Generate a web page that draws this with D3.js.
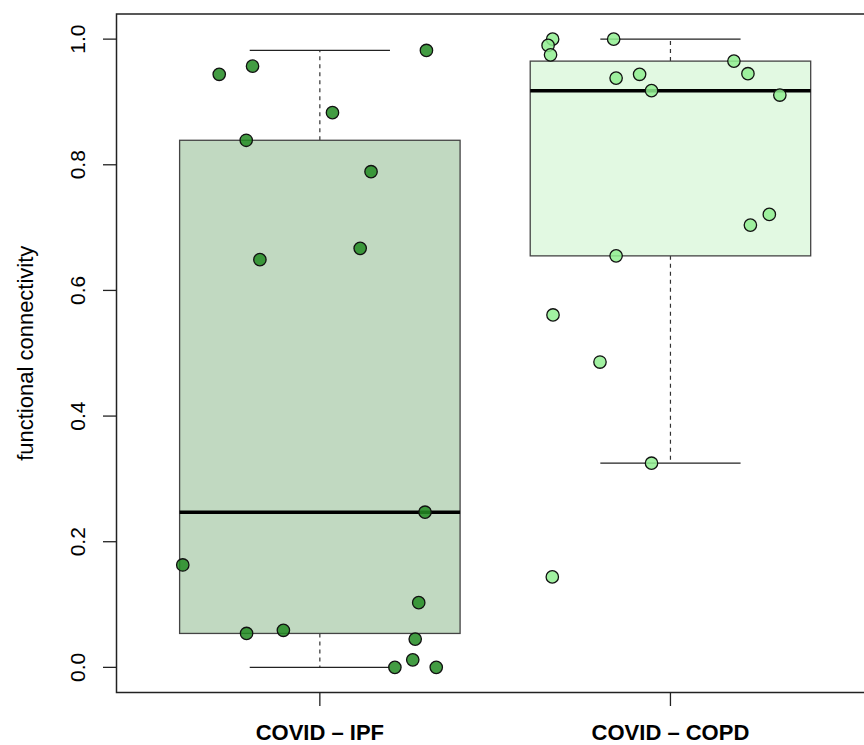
<!DOCTYPE html>
<html lang="en">
<head>
  <meta charset="UTF-8" />
  <title>Functional connectivity boxplot</title>
  <script src="https://d3js.org/d3.v7.min.js"></script>
  <style>
    body {
      margin: 0;
      overflow: hidden;
      background: #fff;
    }
    text {
      font-family: "Liberation Sans", Arial, Helvetica, sans-serif;
      fill: #000;
    }
  </style>
</head>
<body>
<svg width="864" height="745"></svg>
<script>
// groups
const groups = ["COVID \u2013 IPF", "COVID \u2013 COPD"];

// measured values per group
const ipfValues = [0.944, 0.957, 0.982, 0.883, 0.839, 0.789, 0.667, 0.649, 0.247,
                   0.163, 0.103, 0.054, 0.059, 0.045, 0.012, 0.0, 0.0];
const copdValues = [1.0, 0.990, 0.975, 1.0, 0.965, 0.945, 0.938, 0.944, 0.918,
                    0.911, 0.721, 0.704, 0.655, 0.561, 0.486, 0.325, 0.144];

// horizontal jitter of each point (in group units)
const ipfJitter = [-0.287, -0.192, 0.304, 0.036, -0.210, 0.146, 0.115, -0.171, 0.300,
                   -0.391, 0.282, -0.209, -0.104, 0.272, 0.265, 0.214, 0.332];
const copdJitter = [-0.336, -0.349, -0.342, -0.162, 0.181, 0.221, -0.155, -0.088, -0.054,
                    0.312, 0.282, 0.228, -0.155, -0.335, -0.201, -0.054, -0.337];

const yTicks = [0, 0.2, 0.4, 0.6, 0.8, 1.0];

const boxFill = ["#c1d9c1", "#e2f9e2"];
const pointFill = ["#228b22", "#90ee90"];

const svg = d3.select("svg");

// plot region (R style, 4% extended ranges)
const x = d3.scaleLinear().domain([0.42, 2.58]).range([116.5, 873.8]);
const y = d3.scaleLinear().domain([-0.04, 1.04]).range([692.5, 14]);

function boxStats(vals) {
  const s = vals.slice().sort(d3.ascending);
  const q1 = d3.quantile(s, 0.25), med = d3.quantile(s, 0.5), q3 = d3.quantile(s, 0.75);
  const iqr = q3 - q1;
  const lo = d3.min(s.filter(v => v >= q1 - 1.5 * iqr));
  const hi = d3.max(s.filter(v => v <= q3 + 1.5 * iqr));
  return {q1, med, q3, lo, hi};
}

const data = [
  {pos: 1, stats: boxStats(ipfValues), values: ipfValues, jitter: ipfJitter},
  {pos: 2, stats: boxStats(copdValues), values: copdValues, jitter: copdJitter}
];

const boxW = 0.8, capW = 0.4;
const g = svg.append("g");

data.forEach((d, i) => {
  const s = d.stats;
  // dashed whiskers
  g.append("line")
    .attr("x1", x(d.pos)).attr("x2", x(d.pos))
    .attr("y1", y(s.q3)).attr("y2", y(s.hi))
    .attr("stroke", "#333").attr("stroke-width", 1.2).attr("stroke-dasharray", "4,4");
  g.append("line")
    .attr("x1", x(d.pos)).attr("x2", x(d.pos))
    .attr("y1", y(s.q1)).attr("y2", y(s.lo))
    .attr("stroke", "#333").attr("stroke-width", 1.2).attr("stroke-dasharray", "4,4");
  // staples
  [s.hi, s.lo].forEach(v => {
    g.append("line")
      .attr("x1", x(d.pos - capW / 2)).attr("x2", x(d.pos + capW / 2))
      .attr("y1", y(v)).attr("y2", y(v))
      .attr("stroke", "#222").attr("stroke-width", 1.3);
  });
  // box
  g.append("rect")
    .attr("x", x(d.pos - boxW / 2))
    .attr("width", x(d.pos + boxW / 2) - x(d.pos - boxW / 2))
    .attr("y", y(s.q3))
    .attr("height", y(s.q1) - y(s.q3))
    .attr("fill", boxFill[i])
    .attr("stroke", "#444").attr("stroke-width", 1.3);
  // median
  g.append("line")
    .attr("x1", x(d.pos - boxW / 2)).attr("x2", x(d.pos + boxW / 2))
    .attr("y1", y(s.med)).attr("y2", y(s.med))
    .attr("stroke", "#000").attr("stroke-width", 3.5);
});

// jittered points
data.forEach((d, i) => {
  g.selectAll(".pt" + i)
    .data(d.values)
    .enter()
    .append("circle")
    .attr("class", "pt" + i)
    .attr("cx", (v, j) => x(d.pos + d.jitter[j]))
    .attr("cy", v => y(v))
    .attr("r", 6.2)
    .attr("fill", pointFill[i])
    .attr("fill-opacity", 0.85)
    .attr("stroke", "#111")
    .attr("stroke-width", 1.3);
});

// frame
svg.append("rect")
  .attr("x", 116.5).attr("y", 14)
  .attr("width", 873.8 - 116.5).attr("height", 692.5 - 14)
  .attr("fill", "none").attr("stroke", "#222").attr("stroke-width", 1.5);

// y axis
const yAxis = svg.append("g");
yTicks.forEach(t => {
  yAxis.append("line")
    .attr("x1", 103).attr("x2", 116.5)
    .attr("y1", y(t)).attr("y2", y(t))
    .attr("stroke", "#222").attr("stroke-width", 1.3);
  yAxis.append("text")
    .attr("transform", `translate(85,${y(t)}) rotate(-90)`)
    .attr("text-anchor", "middle")
    .attr("font-size", 21)
    .text(d3.format(".1f")(t));
});

// x axis
groups.forEach((name, i) => {
  svg.append("line")
    .attr("x1", x(i + 1)).attr("x2", x(i + 1))
    .attr("y1", 692.5).attr("y2", 706)
    .attr("stroke", "#222").attr("stroke-width", 1.3);
  svg.append("text")
    .attr("x", x(i + 1)).attr("y", 740)
    .attr("text-anchor", "middle")
    .attr("font-size", 22)
    .attr("font-weight", "bold")
    .text(name);
});

// y label
svg.append("text")
  .attr("transform", `translate(33,${y(0.5)}) rotate(-90)`)
  .attr("text-anchor", "middle")
  .attr("font-size", 22)
  .text("functional connectivity");
</script>
</body>
</html>
